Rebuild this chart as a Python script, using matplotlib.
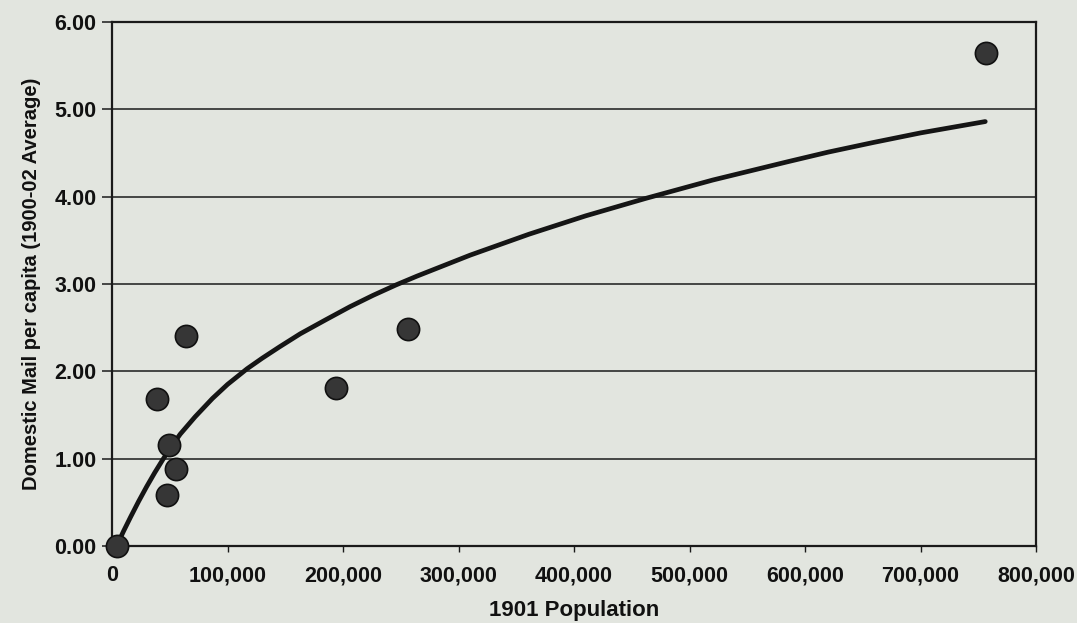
import matplotlib
matplotlib.use("Agg")
import matplotlib.pyplot as plt
from matplotlib.ticker import FuncFormatter

# Scatter data (1901 population, domestic mail per capita)
population = [4000, 39000, 48000, 49000, 55000, 64000, 194000, 256000, 757000]
mail_per_capita = [0.00, 1.68, 0.58, 1.16, 0.88, 2.41, 1.81, 2.49, 5.64]

# Trend line
trend_pop = [4000, 10000, 16000, 23000, 30000, 37000, 44000, 51000, 59000,
             72000, 87000, 100000, 117000, 130000, 145000, 163000, 185000,
             206000, 226000, 246000, 264000, 310000, 361000, 410000, 462000,
             520000, 585000, 620000, 659000, 700000, 756000]
trend_mail = [0.00, 0.17, 0.33, 0.51, 0.68, 0.84, 0.99, 1.13, 1.28,
              1.48, 1.69, 1.85, 2.03, 2.15, 2.28, 2.43, 2.59,
              2.74, 2.87, 2.99, 3.09, 3.33, 3.57, 3.78, 3.98,
              4.19, 4.40, 4.51, 4.62, 4.73, 4.86]

x_ticks = [0, 100000, 200000, 300000, 400000, 500000, 600000, 700000, 800000]
y_ticks = [0, 1, 2, 3, 4, 5, 6]

BG = "#e2e5df"
plt.rcParams['font.family'] = ['Liberation Sans', 'DejaVu Sans']

fig = plt.figure(figsize=(10.77, 6.23), dpi=100, facecolor=BG)
ax = fig.add_axes([0.104, 0.1236, 0.858, 0.8411], facecolor=BG)

ax.set_xlim(0, 800000)
ax.set_ylim(0, 6)
ax.set_xticks(x_ticks)
ax.set_yticks(y_ticks)
ax.xaxis.set_major_formatter(FuncFormatter(lambda v, p: f"{int(v):,}"))
ax.yaxis.set_major_formatter(FuncFormatter(lambda v, p: f"{v:.2f}"))

ax.grid(axis='y', color='#1a1a1a', linewidth=1.1, zorder=1)
for s in ax.spines.values():
    s.set_color('#1a1a1a')
    s.set_linewidth(1.6)

ax.tick_params(axis='y', length=7, width=1.1, color='#1a1a1a', pad=4,
               labelsize=15.5, labelcolor='#111111')
ax.tick_params(axis='x', length=4, width=1.0, color='#1a1a1a', pad=10,
               labelsize=15.5, labelcolor='#111111')
for lbl in ax.get_xticklabels() + ax.get_yticklabels():
    lbl.set_fontweight('bold')

ax.plot(trend_pop, trend_mail, color='#151515', linewidth=3.4,
        solid_capstyle='round', solid_joinstyle='round', zorder=3)
ax.plot(population, mail_per_capita, linestyle='none', marker='o',
        markersize=16, markerfacecolor='#363636', markeredgecolor='#111111',
        markeredgewidth=1.2, zorder=4, clip_on=False)

ax.set_xlabel("1901 Population", fontsize=16, fontweight='bold',
              color='#111111', labelpad=10)
ax.set_ylabel("Domestic Mail per capita (1900-02 Average)", fontsize=14.5,
              fontweight='bold', color='#111111', labelpad=10)

fig.savefig("out.png", dpi=100, facecolor=BG)
